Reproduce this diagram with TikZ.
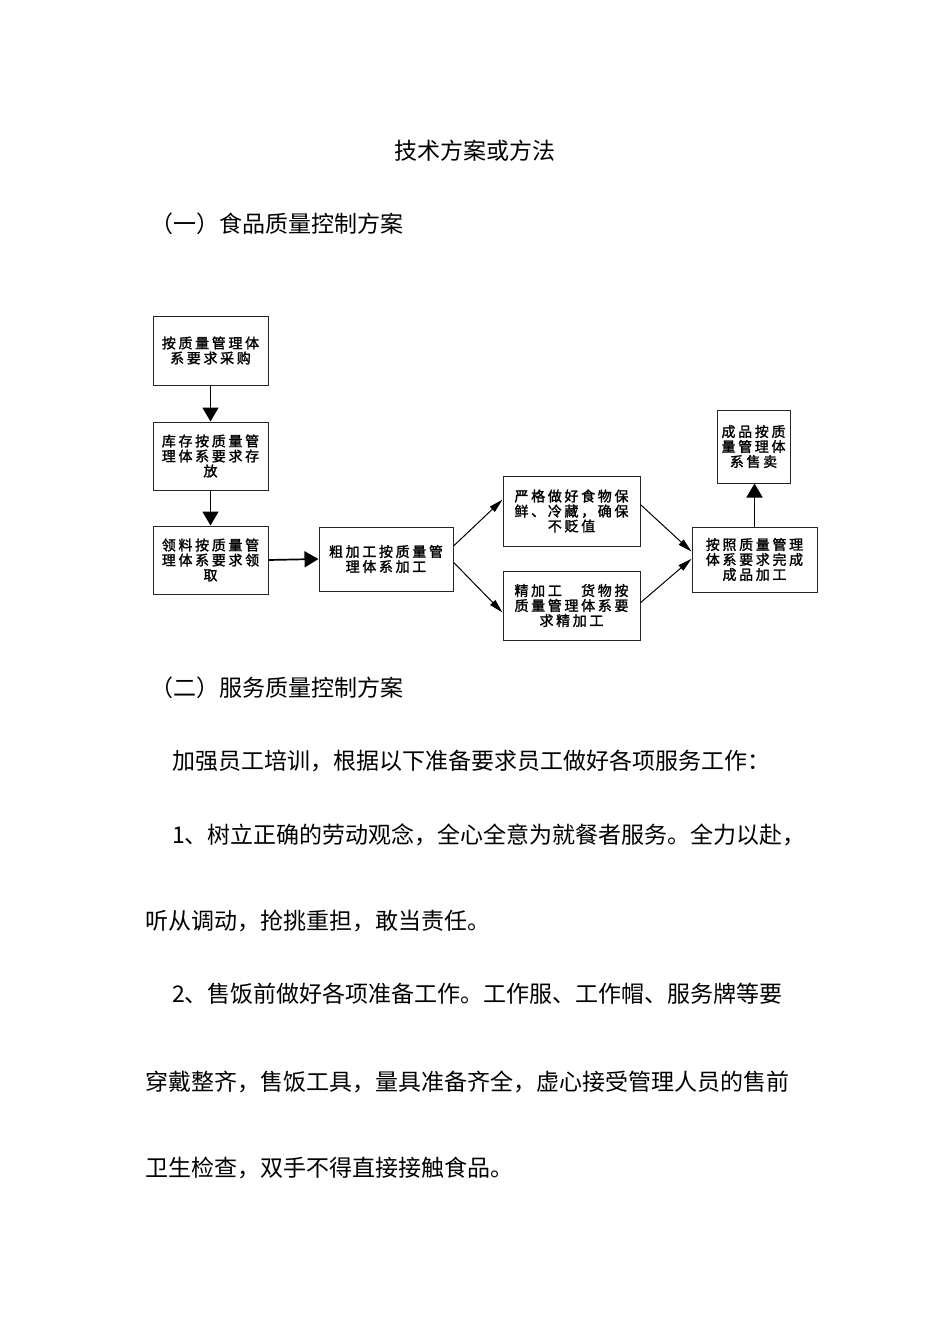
\documentclass[tikz,border=0pt]{standalone}
\usepackage{fontspec}
\setmainfont{Liberation Sans}
\newfontfamily\cjk{Noto Sans CJK SC}
\newfontfamily\boxcjk[LetterSpace=19,FakeBold=1.6]{Noto Sans CJK SC}
\usetikzlibrary{arrows.meta,calc}
\begin{document}
\begin{tikzpicture}[x=1pt,y=-1pt,
  box/.style={draw=black!85,line width=1pt,inner sep=0pt,align=center,
    font=\boxcjk\fontsize{14}{15}\selectfont},
  bigarrow/.style={line width=1.7pt,-{Triangle[width=16pt,length=14pt]}},
  thinarrow/.style={line width=1pt,-{Triangle[width=7pt,length=14pt]}},
  body/.style={font=\cjk\fontsize{23}{28}\selectfont,inner sep=0pt,anchor=west},
  ttl/.style={font=\cjk\fontsize{23}{28}\selectfont,inner sep=0pt}]
\fill[white] (0,0) rectangle (950,1344);
\useasboundingbox (0,0) rectangle (950,1344);

% headings
\node[ttl] (title) at (475,151) {技术方案或方法};
\node[body] (h1) at (150,224) {（一）食品质量控制方案};

% boxes
\node[box,minimum width=115pt,minimum height=69pt] (b1) at (210.5,350.5) {按质量管理体\\系要求采购};
\node[box,minimum width=115pt,minimum height=68pt] (b2) at (210.5,456) {库存按质量管\\理体系要求存\\放};
\node[box,minimum width=115pt,minimum height=68pt] (b3) at (210.5,560) {领料按质量管\\理体系要求领\\取};
\node[box,minimum width=134pt,minimum height=64pt] (b4) at (386,559) {粗加工按质量管\\理体系加工};
\node[box,minimum width=137pt,minimum height=70pt] (b5) at (571.5,511) {严格做好食物保\\鲜、冷藏，确保\\不贬值};
\node[box,minimum width=137pt,minimum height=69pt] (b6) at (571.5,605.5) {精加工　货物按\\质量管理体系要\\求精加工};
\node[box,minimum width=125pt,minimum height=65pt] (b7) at (754.5,559.5) {按照质量管理\\体系要求完成\\成品加工};
\node[box,minimum width=73pt,minimum height=73pt] (b8) at (753.5,446.5) {成品按质\\量管理体\\系售卖};

% connectors
\draw[bigarrow] (b1.south) -- (b2.north);
\draw[bigarrow] (b2.south) -- (b3.north);
\draw[bigarrow] (b3.east) -- (b4.west);
\draw[thinarrow] ($(b4.north east)!0.3!(b4.south east)$) -- ($(b5.north west)!0.34!(b5.south west)$);
\draw[thinarrow] ($(b4.north east)!0.55!(b4.south east)$) -- ($(b6.north west)!0.6!(b6.south west)$);
\draw[thinarrow] ($(b5.north east)!0.41!(b5.south east)$) -- ($(b7.north west)!0.38!(b7.south west)$);
\draw[thinarrow] ($(b6.north east)!0.46!(b6.south east)$) -- ($(b7.north west)!0.49!(b7.south west)$);
\draw[bigarrow] (b7.north) -- (b7.north |- b8.south);

% section two
\node[body] (h2) at (150,688) {（二）服务质量控制方案};
\node[body] (l1) at (172,761) {加强员工培训，根据以下准备要求员工做好各项服务工作：};
\node[body] (l2) at (172,835) {1、树立正确的劳动观念，全心全意为就餐者服务。全力以赴，};
\node[body] (l3) at (145,921) {听从调动，抢挑重担，敢当责任。};
\node[body] (l4) at (172,994) {2、售饭前做好各项准备工作。工作服、工作帽、服务牌等要};
\node[body] (l5) at (145,1082) {穿戴整齐，售饭工具，量具准备齐全，虚心接受管理人员的售前};
\node[body] (l6) at (145,1168) {卫生检查，双手不得直接接触食品。};
\end{tikzpicture}
\end{document}
